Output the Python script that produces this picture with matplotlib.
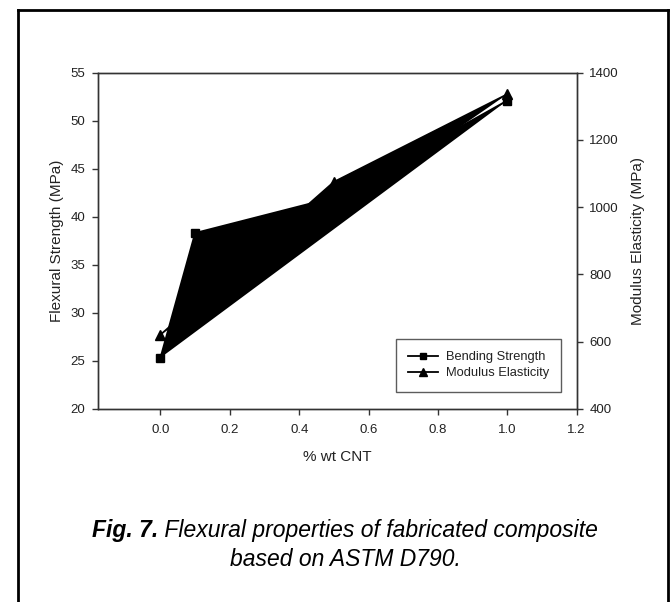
import matplotlib
matplotlib.use('Agg')
import matplotlib.pyplot as plt
from matplotlib.lines import Line2D

plt.rcParams['font.family'] = ['Liberation Sans', 'DejaVu Sans']

# data
cnt = [0.0, 0.1, 0.5, 1.0]
bending = [25.3, 38.3, 42.0, 52.1]          # MPa, left axis
cnt_mod = [0.0, 0.5, 1.0]
modulus = [620, 1075, 1336]                 # MPa, right axis

x_ticks = [0.0, 0.2, 0.4, 0.6, 0.8, 1.0, 1.2]
left_ticks = [20, 25, 30, 35, 40, 45, 50, 55]
right_ticks = [400, 600, 800, 1000, 1200, 1400]

W, H = 670, 602
fig = plt.figure(figsize=(W / 100, H / 100), dpi=100)

ax = fig.add_axes([98 / W, 1 - 408.7 / H, (576.7 - 98) / W, (408.7 - 72.7) / H])
ax2 = ax.twinx()

# the polygons got filled black in the original rendering
ax.fill(cnt, bending, color='k', lw=0)
ax2.fill(cnt_mod, modulus, color='k', lw=0)

h1, = ax.plot(cnt, bending, color='k', lw=1.3, marker='s', ms=5.5, label='Bending Strength')
h2, = ax2.plot(cnt_mod, modulus, color='k', lw=1.3, marker='^', ms=6.5, label='Modulus Elasticity')

ax.set_xlim(-0.18, 1.2)
ax.set_ylim(20, 55)
ax2.set_ylim(400, 1400)
ax.set_xticks(x_ticks)
ax.set_xticklabels(['%.1f' % v for v in x_ticks])
ax.set_yticks(left_ticks)
ax2.set_yticks(right_ticks)

for a in (ax, ax2):
    for s in a.spines.values():
        s.set_color('#333333')
        s.set_linewidth(1.0)
    a.tick_params(direction='out', length=4, width=1, color='#333333',
                  labelsize=9.5, labelcolor='#222222', pad=5)
ax.tick_params(axis='x', pad=7)

ax.set_xlabel('% wt CNT', fontsize=11, labelpad=10, color='#222222')
ax.set_ylabel('Flexural Strength (MPa)', fontsize=11, labelpad=5, color='#222222')
ax2.set_ylabel('Modulus Elasticity (MPa)', fontsize=11, labelpad=9, color='#222222')

leg = ax2.legend([h1, h2], ['Bending Strength', 'Modulus Elasticity'],
                 loc='upper left', bbox_to_anchor=(396 / W, 1 - 339 / H),
                 bbox_transform=fig.transFigure, borderaxespad=0,
                 fontsize=9.3, frameon=True, fancybox=False, edgecolor='#333333',
                 handlelength=2.3, handletextpad=0.6, borderpad=0.95,
                 labelspacing=0.3, markerscale=0.9)
leg.get_frame().set_linewidth(1.0)
for t in leg.get_texts():
    t.set_color('#222222')

# outer frame (bottom edge runs off the image)
fig.add_artist(Line2D([17.5 / W, 17.5 / W], [1 - 10 / H, -0.05], color='k', lw=2))
fig.add_artist(Line2D([17.5 / W, 667.5 / W], [1 - 10 / H, 1 - 10 / H], color='k', lw=2))
fig.add_artist(Line2D([667.5 / W, 667.5 / W], [1 - 10 / H, -0.05], color='k', lw=2))

# caption: bold italic label followed by italic text, centred as one line
cx = 345 / W
fs_cap = 16.5
fig.canvas.draw()
r = fig.canvas.get_renderer()
t1 = fig.text(0, 1 - 531 / H, 'Fig. 7.', fontsize=fs_cap, fontstyle='italic',
              fontweight='bold', va='center', ha='left')
t2 = fig.text(0, 1 - 531 / H, ' Flexural properties of fabricated composite',
              fontsize=fs_cap, fontstyle='italic', va='center', ha='left')
w1 = t1.get_window_extent(r).width / (W)
w2 = t2.get_window_extent(r).width / (W)
x0 = cx - (w1 + w2) / 2
t1.set_x(x0)
t2.set_x(x0 + w1)
fig.text(cx, 1 - 559 / H, 'based on ASTM D790.', fontsize=fs_cap, fontstyle='italic',
         va='center', ha='center')

fig.savefig('out.png', dpi=100)
